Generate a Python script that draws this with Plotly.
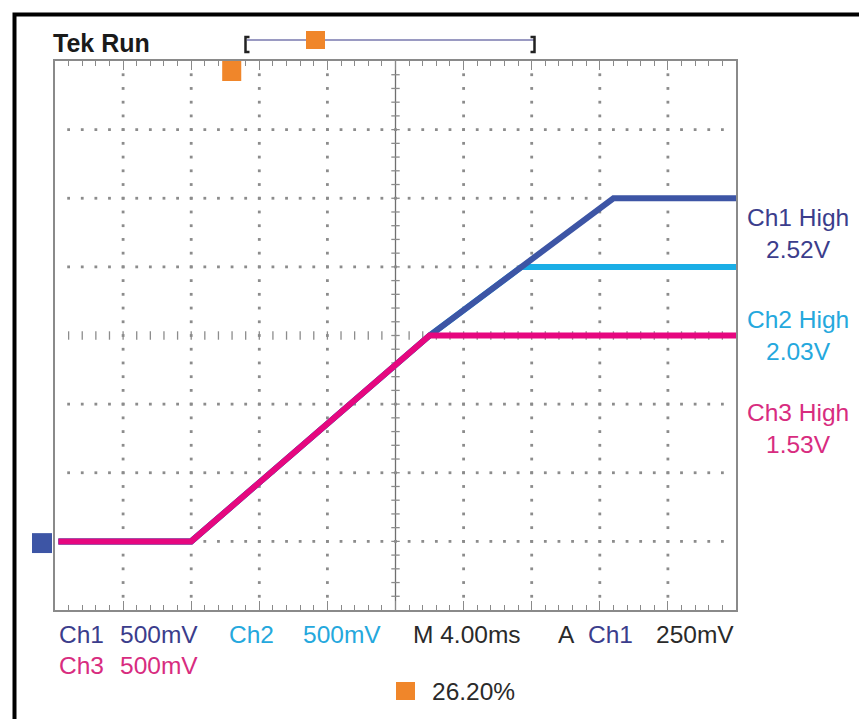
import numpy as np
import plotly.graph_objects as go

# ---------------- data ----------------
TIME_PER_DIV_MS = 4.0          # M 4.00ms
VOLTS_PER_DIV = 0.5            # 500 mV/div
N_XDIV, N_YDIV = 10, 8
GROUND_DIV = 1                 # ground marker one division above bottom

ch1_t = [0.2, 8.0, 22.0, 32.8, 40.0]
ch1_v = [0.0, 0.0, 1.50, 2.50, 2.50]
ch2_t = [0.2, 8.0, 22.0, 27.4, 40.0]
ch2_v = [0.0, 0.0, 1.50, 2.00, 2.00]
ch3_t = [0.2, 8.0, 22.0, 40.0]
ch3_v = [0.0, 0.0, 1.50, 1.50]

high_names = ["Ch1 High", "Ch2 High", "Ch3 High"]
high_values = ["2.52V", "2.03V", "1.53V"]
trigger_pct = 26.20
bottom_row1 = ["Ch1", "500mV", "Ch2", "500mV", "M 4.00ms", "A", "Ch1", "250mV"]
bottom_row2 = ["Ch3", "500mV"]

# ---------------- styling ----------------
W, H = 859, 719
L, R, T, B = 55, 736, 61, 610
C1, C2, C3 = "#3d55a5", "#1aaee6", "#e6077f"
T1, T2, T3 = "#3b3d8c", "#25a8dd", "#d82c7f"
ORANGE = "#f0862a"
GRID = "#8c8c8c"
DARK = "#2a2a2a"
FONT = "Liberation Sans, Arial, sans-serif"
FS = 24.5

xmax = N_XDIV * TIME_PER_DIV_MS
ymin = -GROUND_DIV * VOLTS_PER_DIV
ymax = ymin + N_YDIV * VOLTS_PER_DIV


def px(x):
    return (x - L) / (R - L)


def py(y):
    return (B - y) / (B - T)


fig = go.Figure()

# ---- graticule dots ----
minor_x = np.arange(0, xmax + 1e-9, TIME_PER_DIV_MS / 5)
minor_y = np.arange(ymin, ymax + 1e-9, VOLTS_PER_DIV / 5)
gx, gy = [], []
for k in range(1, N_XDIV):
    if k == N_XDIV // 2:
        continue
    xv = k * TIME_PER_DIV_MS
    for yv in minor_y[1:-1]:
        gx.append(xv); gy.append(yv)
for k in range(1, N_YDIV):
    if k == N_YDIV // 2:
        continue
    yv = ymin + k * VOLTS_PER_DIV
    for xv in minor_x[1:-1]:
        gx.append(xv); gy.append(yv)
fig.add_trace(go.Scatter(x=gx, y=gy, mode="markers", hoverinfo="skip",
                         marker=dict(symbol="square", size=2.8, color=GRID, line=dict(width=0)),
                         showlegend=False))

# center horizontal ticks
yc = ymin + (N_YDIV // 2) * VOLTS_PER_DIV
fig.add_trace(go.Scatter(x=minor_x[1:-1], y=[yc] * (len(minor_x) - 2), mode="markers",
                         hoverinfo="skip", showlegend=False,
                         marker=dict(symbol="line-ns", size=6, line=dict(width=1.3, color=GRID))))
# center vertical ticks
xc = (N_XDIV // 2) * TIME_PER_DIV_MS
fig.add_trace(go.Scatter(x=[xc] * (len(minor_y) - 2), y=minor_y[1:-1], mode="markers",
                         hoverinfo="skip", showlegend=False,
                         marker=dict(symbol="line-ew", size=6, line=dict(width=1.3, color=GRID))))

# ---- channel traces (Ch2 under Ch1 under Ch3) ----
for t, v, c, n in [(ch2_t, ch2_v, C2, "Ch2"), (ch1_t, ch1_v, C1, "Ch1"), (ch3_t, ch3_v, C3, "Ch3")]:
    fig.add_trace(go.Scatter(x=t, y=v, mode="lines", name=n, showlegend=False,
                             line=dict(color=c, width=6)))

shapes = []
# center vertical line
shapes.append(dict(type="line", xref="x", yref="paper", x0=xc, x1=xc, y0=0, y1=1,
                   line=dict(color="#6f6f6f", width=1.3), layer="below"))
# outer frame (top/left visible)
shapes.append(dict(type="rect", xref="paper", yref="paper",
                   x0=px(14.5), x1=px(W + 20), y0=py(H + 20), y1=py(14.5),
                   line=dict(color="black", width=4)))
# ground marker (Ch1 reference)
shapes.append(dict(type="rect", xref="paper", yref="y", x0=px(32), x1=px(52),
                   y0=-0.085, y1=0.06, fillcolor=C1, line=dict(width=0)))
# trigger position marker on plot top
tpos = trigger_pct / 100 * xmax
shapes.append(dict(type="rect", xref="x", yref="paper", x0=tpos - 0.66, x1=tpos + 0.46,
                   y0=py(81), y1=py(61), fillcolor=ORANGE, line=dict(width=0)))
# record-view bar on top
shapes.append(dict(type="line", xref="paper", yref="paper", x0=px(247), x1=px(534),
                   y0=py(40), y1=py(40), line=dict(color="#9a9ac2", width=2)))
for xb, d in [(245.5, 1), (534.5, -1)]:
    shapes.append(dict(type="path", xref="paper", yref="paper",
                       path=f"M {px(xb + 4*d)},{py(37)} L {px(xb)},{py(37)} L {px(xb)},{py(52)} L {px(xb + 4*d)},{py(52)}",
                       line=dict(color="#222", width=2.5)))
shapes.append(dict(type="rect", xref="paper", yref="paper", x0=px(306), x1=px(325),
                   y0=py(49), y1=py(31), fillcolor=ORANGE, line=dict(width=0)))
# orange square near percentage
shapes.append(dict(type="rect", xref="paper", yref="paper", x0=px(396), x1=px(415),
                   y0=py(700), y1=py(682), fillcolor=ORANGE, line=dict(width=0)))

ann = []


def text(s, x, y, color, size=FS, bold=False, xanchor="left"):
    ann.append(dict(text=f"<b>{s}</b>" if bold else s, xref="paper", yref="paper",
                    x=px(x), y=py(y), xanchor=xanchor, yanchor="middle", showarrow=False,
                    font=dict(family=FONT, size=size, color=color), align="center"))


text("Tek Run", 51, 43, "#1a1a1a", size=25, bold=True)

row1_x = [57, 118, 227, 301, 411, 556, 586, 654]
row1_c = [T1, T1, T2, T2, DARK, DARK, T1, DARK]
for s, x, c in zip(bottom_row1, row1_x, row1_c):
    text(s, x, 634, c)
for s, x in zip(bottom_row2, [57, 118]):
    text(s, x, 665, T3)
text(f"{trigger_pct:.2f}%", 430, 691, DARK)

for nm, val, yc_px, c in zip(high_names, high_values, [233, 335, 428], [T1, T2, T3]):
    text(f"{nm}<br>{val}", 798, yc_px, c, xanchor="center")

axis_common = dict(showgrid=False, zeroline=False, showline=True, linecolor="#8a8a8a",
                   linewidth=1.5, mirror=True, showticklabels=False, fixedrange=True)
fig.update_layout(
    width=W, height=H,
    margin=dict(l=L, r=W - R, t=T, b=H - B, pad=0),
    paper_bgcolor="white", plot_bgcolor="white",
    xaxis=dict(range=[0, xmax], ticks="inside", tick0=0, dtick=TIME_PER_DIV_MS, ticklen=9,
               tickwidth=1.3, tickcolor="#8a8a8a",
               minor=dict(ticks="inside", tick0=0, dtick=TIME_PER_DIV_MS / 5, ticklen=5,
                          tickwidth=1.3, tickcolor="#8a8a8a"),
               **{**axis_common, "mirror": "ticks"}),
    yaxis=dict(range=[ymin, ymax], ticks="", **axis_common),
    shapes=shapes, annotations=ann, showlegend=False,
)

fig.write_html("out.html", config={"displayModeBar": False},
               post_script="document.body.style.margin='0';document.body.style.overflow='hidden';")
